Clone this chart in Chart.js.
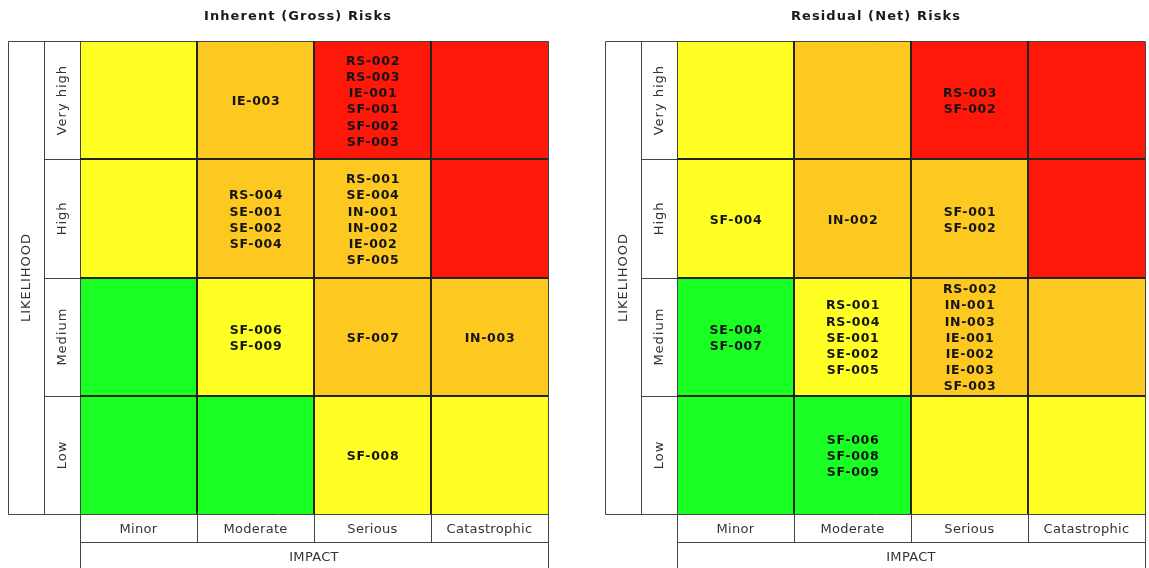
<!DOCTYPE html>
<html>
<head>
<meta charset="utf-8">
<script src="https://cdn.jsdelivr.net/npm/chart.js@4.4.0/dist/chart.umd.min.js"></script>
<style>
  html, body { margin: 0; padding: 0; background: #fff; }
  #wrap { position: relative; width: 1149px; height: 568px; overflow: hidden; }
  .box { position: absolute; top: 0; height: 568px; }
</style>
</head>
<body>
<div id="wrap">
  <div class="box" style="left:0;width:574px"><canvas id="inherent" width="574" height="568"></canvas></div>
  <div class="box" style="left:574px;width:575px"><canvas id="residual" width="575" height="568"></canvas></div>
</div>
<script>
const impacts = ['Minor', 'Moderate', 'Serious', 'Catastrophic'];
const likelihoods = ['Low', 'Medium', 'High', 'Very high'];

// risk level of each cell (1 = low ... 4 = extreme), rows from Low up to Very high
const levelLow = [1, 1, 2, 2];
const levelMedium = [1, 2, 3, 3];
const levelHigh = [2, 3, 3, 4];
const levelVeryHigh = [2, 3, 4, 4];

const inherentLow = [[], [], ['SF-008'], []];
const inherentMedium = [[], ['SF-006', 'SF-009'], ['SF-007'], ['IN-003']];
const inherentHigh = [[], ['RS-004', 'SE-001', 'SE-002', 'SF-004'], ['RS-001', 'SE-004', 'IN-001', 'IN-002', 'IE-002', 'SF-005'], []];
const inherentVeryHigh = [[], ['IE-003'], ['RS-002', 'RS-003', 'IE-001', 'SF-001', 'SF-002', 'SF-003'], []];

const residualLow = [[], ['SF-006', 'SF-008', 'SF-009'], [], []];
const residualMedium = [['SE-004', 'SF-007'], ['RS-001', 'RS-004', 'SE-001', 'SE-002', 'SF-005'], ['RS-002', 'IN-001', 'IN-003', 'IE-001', 'IE-002', 'IE-003', 'SF-003'], []];
const residualHigh = [['SF-004'], ['IN-002'], ['SF-001', 'SF-002'], []];
const residualVeryHigh = [[], [], ['RS-003', 'SF-002'], []];

const palette = { 1: '#19ff24', 2: '#ffff24', 3: '#fdc81f', 4: '#ff170a' };
const levels = [levelLow, levelMedium, levelHigh, levelVeryHigh];
const FONT = "'DejaVu Sans', Verdana, sans-serif";

const riskMatrixPlugin = {
  id: 'riskMatrix',
  afterDraw(chart, args, opts) {
    const ctx = chart.ctx;
    const area = chart.chartArea;
    const snap = v => Math.round(v) + 0.5;
    const colW = 36, rowH = 28;
    const left = snap(area.left), right = snap(area.right);
    const top = snap(area.top), bottom = snap(area.bottom);

    ctx.save();

    ctx.fillStyle = '#141414';
    ctx.font = 'bold 12.5px ' + FONT;
    ctx.letterSpacing = '0.7px';
    ctx.textAlign = 'center';
    ctx.textBaseline = 'middle';
    chart.data.datasets.forEach((ds, r) => {
      chart.getDatasetMeta(r).data.forEach((bar, i) => {
        const lines = ds.cellText[i];
        const cy = (bar.y + bar.base) / 2 + 2;
        lines.forEach((t, k) => {
          ctx.fillText(t, bar.x + 0.5, cy + (k - (lines.length - 1) / 2) * 16.2);
        });
      });
    });

    // outer frame lines, thin grey
    ctx.strokeStyle = '#444';
    ctx.lineWidth = 1;
    ctx.beginPath();
    const xEdges = [];
    chart.getDatasetMeta(0).data.forEach(bar => xEdges.push(bar.x - bar.width / 2));
    xEdges.push(area.right);
    xEdges.forEach((x, i) => {
      const last = i === 0 || i === xEdges.length - 1;
      ctx.moveTo(snap(x), last ? top : bottom);
      ctx.lineTo(snap(x), last ? bottom + rowH * 2 + 2 : bottom + rowH);
    });
    chart.data.datasets.forEach((ds, r) => {
      const bar = chart.getDatasetMeta(r).data[0];
      ctx.moveTo(left - colW, snap(bar.y));
      ctx.lineTo(left, snap(bar.y));
    });
    ctx.moveTo(left - colW * 2, top);
    ctx.lineTo(right, top);
    ctx.moveTo(left - colW * 2, bottom);
    ctx.lineTo(right, bottom);
    ctx.moveTo(left, bottom + rowH);
    ctx.lineTo(right, bottom + rowH);
    ctx.moveTo(left - colW * 2, top);
    ctx.lineTo(left - colW * 2, bottom);
    ctx.moveTo(left - colW, top);
    ctx.lineTo(left - colW, bottom);
    ctx.stroke();

    // dividers between cells, darker and heavier
    ctx.strokeStyle = '#242418';
    ctx.lineWidth = 2;
    ctx.beginPath();
    xEdges.slice(1, -1).forEach(x => {
      ctx.moveTo(Math.round(x), area.top);
      ctx.lineTo(Math.round(x), area.bottom);
    });
    chart.data.datasets.slice(1).forEach((ds, r) => {
      const bar = chart.getDatasetMeta(r + 1).data[0];
      ctx.moveTo(area.left, Math.round(bar.base));
      ctx.lineTo(area.right, Math.round(bar.base));
    });
    ctx.stroke();

    // impact labels
    ctx.fillStyle = '#333';
    ctx.font = '13px ' + FONT;
    ctx.letterSpacing = '0.3px';
    const xScale = chart.scales.x;
    impacts.forEach((lab, i) => {
      ctx.fillText(lab, xScale.getPixelForValue(i), area.bottom + 15.5);
    });
    ctx.fillText('IMPACT', (area.left + area.right) / 2, area.bottom + 44);

    // likelihood labels, rotated
    ctx.letterSpacing = '1px';
    chart.data.datasets.forEach((ds, r) => {
      const bar = chart.getDatasetMeta(r).data[0];
      ctx.save();
      ctx.translate(area.left - colW / 2 + 0.5, (bar.y + bar.base) / 2);
      ctx.rotate(-Math.PI / 2);
      ctx.fillText(ds.label, 0, 0);
      ctx.restore();
    });
    ctx.save();
    ctx.translate(area.left - colW * 1.5 + 0.5, (area.top + area.bottom) / 2);
    ctx.rotate(-Math.PI / 2);
    ctx.fillText('LIKELIHOOD', 0, 0);
    ctx.restore();

    // title
    ctx.fillStyle = '#1a1a1a';
    ctx.font = 'bold 13px ' + FONT;
    ctx.letterSpacing = '1.1px';
    ctx.fillText(opts.title, opts.titleX, 16.5);

    ctx.restore();
  }
};

function makeMatrix(canvasId, rows, title, titleX, padLeft, padRight) {
  return new Chart(document.getElementById(canvasId), {
    type: 'bar',
    data: {
      labels: impacts,
      datasets: rows.map((row, r) => ({
        label: likelihoods[r],
        data: impacts.map(() => 1),
        backgroundColor: levels[r].map(l => palette[l]),
        borderWidth: 0,
        barPercentage: 1,
        categoryPercentage: 1,
        cellText: row
      }))
    },
    options: {
      responsive: false,
      animation: false,
      layout: {
        padding: { left: padLeft, right: padRight, top: 41, bottom: 54 }
      },
      scales: {
        x: { display: false, stacked: true },
        y: { display: false, stacked: true, min: 0, max: 4 }
      },
      plugins: {
        legend: { display: false },
        tooltip: { enabled: false },
        riskMatrix: { title: title, titleX: titleX }
      }
    },
    plugins: [riskMatrixPlugin]
  });
}

makeMatrix('inherent', [inherentLow, inherentMedium, inherentHigh, inherentVeryHigh],
  'Inherent (Gross) Risks', 298, 80, 26);
makeMatrix('residual', [residualLow, residualMedium, residualHigh, residualVeryHigh],
  'Residual (Net) Risks', 302, 103, 4);
</script>
</body>
</html>
